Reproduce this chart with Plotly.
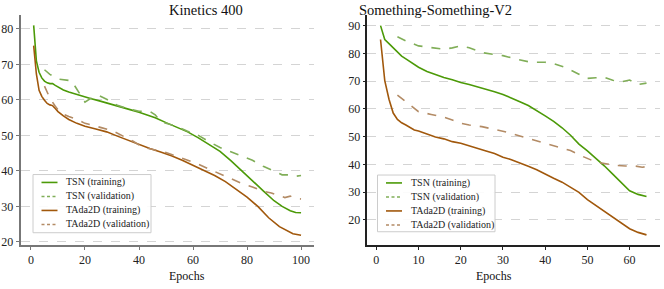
import plotly.graph_objects as go

# ---------------- Kinetics 400 ----------------
k_tsn_train_x = [1,2,3,4,5,6,7,8,9,10,12,14,16,18,20,22,25,28,31,34,37,40,43,46,50,54,58,62,66,70,74,78,82,86,90,93,96,98,100]
k_tsn_train_y = [81,71,67.8,66.2,65.3,64.8,64.6,64.6,64.1,63.6,62.8,62.2,61.7,61.2,60.8,60.4,59.8,59.2,58.6,58,57.2,56.5,55.7,55,53.6,52.3,51,49.3,47.5,45.5,42.9,40,37.2,34.4,31.6,30,28.8,28.3,28.2]

k_tsn_val_x = [5,7,10,13,15,17,20,22,25,28,32,36,40,44,46,48,51,54,58,62,66,70,74,78,82,86,89,91,93,96,98,100]
k_tsn_val_y = [68.5,67.2,65.9,65.5,65.4,63,59.4,60.4,61.3,60.2,58.5,57.5,56.8,56.8,55.8,53.9,53.2,52.5,51.2,50,48.2,46.6,45.4,44.3,43,41.3,40.2,39.6,38.9,38.9,38.5,38.7]

k_tada_train_x = [1,2,3,4,5,6,7,8,9,10,12,14,17,20,24,28,32,36,40,44,48,52,56,60,64,68,72,76,80,84,88,92,95,97,100]
k_tada_train_y = [75.3,67.3,62.7,61,59.9,59,58.6,58.4,57.6,56.7,55.5,54.5,53.4,52.6,51.8,51,49.8,48.6,47.4,46.3,45.3,44.3,43,41.6,40.2,38.7,37,34.9,32.6,30,26.8,24.3,23,22.3,21.9]

k_tada_val_x = [5,7,9,11,14,17,20,23,26,30,34,38,41,44,47,50,54,58,62,66,70,74,78,82,86,89,92,94,96,98,100]
k_tada_val_y = [63.9,60.5,58.2,56.3,55.3,54.5,53.4,52.7,52.2,51.4,49.9,48.3,46.8,46.3,45.6,45.2,44.1,43.1,41.9,40.5,39.2,37.8,36.5,35.5,34.3,33.8,33,32.5,32.9,32.2,32.1]

# ---------------- Something-Something-V2 ----------------
s_tsn_train_x = [1,2,3,4,5,6,7,8,9,10,12,14,16,18,20,22,24,26,28,30,32,34,36,38,40,42,44,46,48,50,52,54,56,58,60,62,64]
s_tsn_train_y = [90,85,83.5,82,80.5,79,78,77,76,75,73.5,72.3,71.3,70.5,69.5,68.8,68,67,66.2,65.2,64,62.6,61.2,59.5,57.5,55.5,53.2,50.5,47.3,44.9,42.3,39.5,36.5,33.5,30.5,29.2,28.4]

s_tsn_val_x = [5,7,10,13,16,18,20,22,25,28,30,33,36,38,40,42,45,48,50,52,54,56,58,60,62,64]
s_tsn_val_y = [86,84.5,82.7,82,81.5,82,82.7,82,80.3,79.6,79.2,78,77,76.8,76.8,76.3,74.8,72.5,71,71.2,71.4,70.3,69.7,70.4,68.8,69.3]

s_tada_train_x = [1,2,3,4,5,6,7,8,9,10,12,14,16,18,20,22,24,26,28,30,32,34,36,38,40,42,44,46,48,50,52,54,56,58,60,62,64]
s_tada_train_y = [85,70.2,63.5,58.5,56.2,55,54.2,53.2,52.4,52,51,49.9,49.2,48.2,47.6,46.6,45.8,44.8,43.9,42.6,41.7,40.6,39.3,38.1,36.4,35,33.6,31.8,29.9,27.3,25.2,23,20.8,18.8,16.8,15.5,14.6]

s_tada_val_x = [5,7,10,13,16,18,20,22,25,28,31,34,37,40,43,46,49,51,53,55,57,59,61,63,64]
s_tada_val_y = [65,62.5,59,58,57,56,54.8,54.2,53.6,52.6,51.6,50.2,48.9,47.5,46.3,45,42.8,41.5,40.6,40,39.6,39.4,39.5,39,39.2]

names = ["TSN (training)", "TSN (validation)", "TAda2D (training)", "TAda2D (validation)"]
titles = ["Kinetics 400", "Something-Something-V2"]
k_xticks = [0, 20, 40, 60, 80, 100]
k_yticks = [20, 30, 40, 50, 60, 70, 80]
s_xticks = [0, 10, 20, 30, 40, 50, 60]
s_yticks = [20, 30, 40, 50, 60, 70, 80, 90]

colors = ["#4c9a08", "#80ae58", "#a1580c", "#b38b65"]
dashes = ["solid", "dash", "solid", "dash"]
W, H = 664, 289
FONT = "Times New Roman, Liberation Serif, Times, DejaVu Serif, serif"

panels = [
    ([(k_tsn_train_x, k_tsn_train_y), (k_tsn_val_x, k_tsn_val_y),
      (k_tada_train_x, k_tada_train_y), (k_tada_val_x, k_tada_val_y)], "x", "y"),
    ([(s_tsn_train_x, s_tsn_train_y), (s_tsn_val_x, s_tsn_val_y),
      (s_tada_train_x, s_tada_train_y), (s_tada_val_x, s_tada_val_y)], "x2", "y2"),
]

fig = go.Figure()
for series, xa, ya in panels:
    for (xs, ys), nm, c, d in zip(series, names, colors, dashes):
        fig.add_trace(go.Scatter(x=xs, y=ys, mode="lines", name=nm, xaxis=xa, yaxis=ya,
                                 showlegend=False, line=dict(color=c, width=1.6, dash=d)))

common_y = dict(showgrid=True, gridcolor="#d4d4d4", griddash="dash", gridwidth=1,
                zeroline=False, ticks="outside", ticklen=3,
                tickfont=dict(size=12, color="#222", family=FONT), showline=True)
common_x = dict(showgrid=False, zeroline=False, ticks="outside", ticklen=3,
                tickfont=dict(size=12, color="#222", family=FONT), showline=True)

def px_x(v):
    return v / W

def px_y(v):
    return 1 - v / H

shapes = []
annotations = []
# legend boxes (px positions: left, top, right, bottom)
legend_boxes = [(33, 177, 151, 236), (377.5, 177.5, 495, 235)]
for (l, t, r, b) in legend_boxes:
    shapes.append(dict(type="rect", xref="paper", yref="paper",
                       x0=px_x(l), x1=px_x(r), y0=px_y(b), y1=px_y(t),
                       line=dict(color="#cccccc", width=1), fillcolor="rgba(255,255,255,0.9)",
                       layer="above"))
    for i, (nm, c, d) in enumerate(zip(names, colors, dashes)):
        yc = t + 8 + i * 14.2
        shapes.append(dict(type="line", xref="paper", yref="paper",
                           x0=px_x(l + 8.5), x1=px_x(l + 24.5), y0=px_y(yc), y1=px_y(yc),
                           line=dict(color=c, width=1.6, dash=("3px,2.5px" if d == "dash" else "solid")),
                           layer="above"))
        annotations.append(dict(text=nm, x=px_x(l + 31), y=px_y(yc), xref="paper", yref="paper",
                                xanchor="left", yanchor="middle", showarrow=False,
                                font=dict(size=10, family=FONT, color="#222")))

title_x = [0.2521, 0.7736]
for tx, tt in zip(title_x, titles):
    annotations.append(dict(text=tt, x=tx, y=px_y(10), xref="paper", yref="paper", yanchor="middle",
                            showarrow=False, font=dict(size=14.5, family=FONT, color="#111")))
    annotations.append(dict(text="Epochs", x=tx, y=px_y(280), xref="paper", yref="paper",
                            yanchor="middle", showarrow=False,
                            font=dict(size=12, family=FONT, color="#111")))

yb, yt = 0.1408, 0.948
fig.update_layout(
    width=W, height=H,
    margin=dict(l=0, r=0, t=0, b=0),
    paper_bgcolor="white", plot_bgcolor="white",
    font=dict(family=FONT, color="#222"),
    showlegend=False,
    xaxis=dict(domain=[0.0312, 0.4729], range=[-3.8, 104.8], tickvals=k_xticks,
               anchor="y", linecolor="#777", linewidth=2, tickcolor="#777", **common_x),
    yaxis=dict(domain=[yb, yt], range=[19.17, 83.97], tickvals=k_yticks,
               anchor="x", linecolor="#777", linewidth=2, tickcolor="#777", **common_y),
    xaxis2=dict(domain=[0.5532, 0.994], range=[-2.13, 67.2], tickvals=s_xticks,
                anchor="y2", linecolor="#222", linewidth=1.5, tickcolor="#222", **common_x),
    yaxis2=dict(domain=[yb, yt], range=[11.0, 93.9], tickvals=s_yticks,
                anchor="x2", linecolor="#222", linewidth=1.5, tickcolor="#222", **common_y),
    shapes=shapes,
    annotations=annotations,
)

fig.write_html("out.html", config={"displayModeBar": False},
               post_script="document.body.style.margin='0';document.body.style.overflow='hidden';")
